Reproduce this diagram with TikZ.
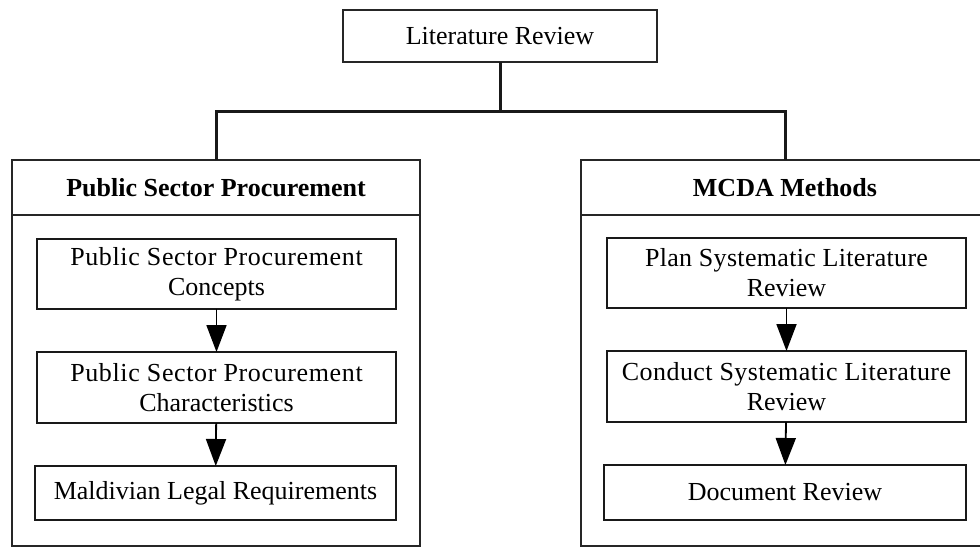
\documentclass[tikz,border=0pt]{standalone}
\usepackage{fontspec}
\setmainfont{Liberation Serif}
\usetikzlibrary{arrows.meta,calc}
% a first line set with a little tracking, as a justified paragraph spreads it
\newcommand{\spreadline}[2]{{\addfontfeatures{LetterSpace=#1}#2}}
\begin{document}
\begin{tikzpicture}[x=1pt,y=-1pt,
  every node/.style={inner sep=0pt,outer sep=0pt,font=\fontsize{26}{30}\selectfont},
  frame/.style={draw=black!85,line width=2pt},
  headbox/.style={frame,minimum width=408pt,minimum height=55pt,font=\fontsize{26}{30}\selectfont\bfseries},
  bodybox/.style={frame,minimum width=408pt,minimum height=331pt},
  item/.style={draw=black!90,line width=2pt,minimum width=359pt,align=center},
  bus/.style={line width=3pt,draw=black!90},
  flow/.style={line width=1.8pt,-{Triangle[length=27pt,width=20pt]}}
]
\useasboundingbox (0,0) rectangle (980,547);
\clip (0,0) rectangle (980,547);

% root
\node[frame,minimum width=314pt,minimum height=52pt] (root) at (500,36) {Literature Review};

% left column
\node[headbox] (lhead) at (216,187.5) {Public Sector Procurement};
\node[bodybox,anchor=north] (lbody) at (lhead.south) {};
\node[item,minimum height=70pt] (l1) at (216.5,274) {\spreadline{2.4}{Public Sector Procurement}\\Concepts};
\node[item,minimum height=71pt] (l2) at (216.5,387.5) {\spreadline{2.4}{Public Sector Procurement}\\Characteristics};
\node[item,minimum width=361pt,minimum height=54pt] (l3) at (215.5,493) {Maldivian Legal Requirements};

% right column
\node[headbox] (rhead) at (785,187.5) {MCDA Methods};
\node[bodybox,anchor=north] (rbody) at (rhead.south) {};
\node[item,minimum height=70pt] (r1) at (786.5,273) {\spreadline{1.2}{Plan Systematic Literature}\\Review};
\node[item,minimum height=71pt] (r2) at (786.5,386.5) {\spreadline{1.7}{Conduct Systematic Literature}\\Review};
\node[item,minimum width=362pt,minimum height=55pt] (r3) at (785,492.5) {Document Review};

% tree connectors
\coordinate (split) at (500,111);
\draw[bus] (root.south) -- (split);
\draw[bus] (lhead.north) |- (split) -| (rhead.north);

% flows inside each column
\draw[flow] (l1) -- (l2);
\draw[flow] (l2) -- (l3);
\draw[flow] (r1) -- (r2);
\draw[flow] (r2) -- (r3);
\end{tikzpicture}
\end{document}
